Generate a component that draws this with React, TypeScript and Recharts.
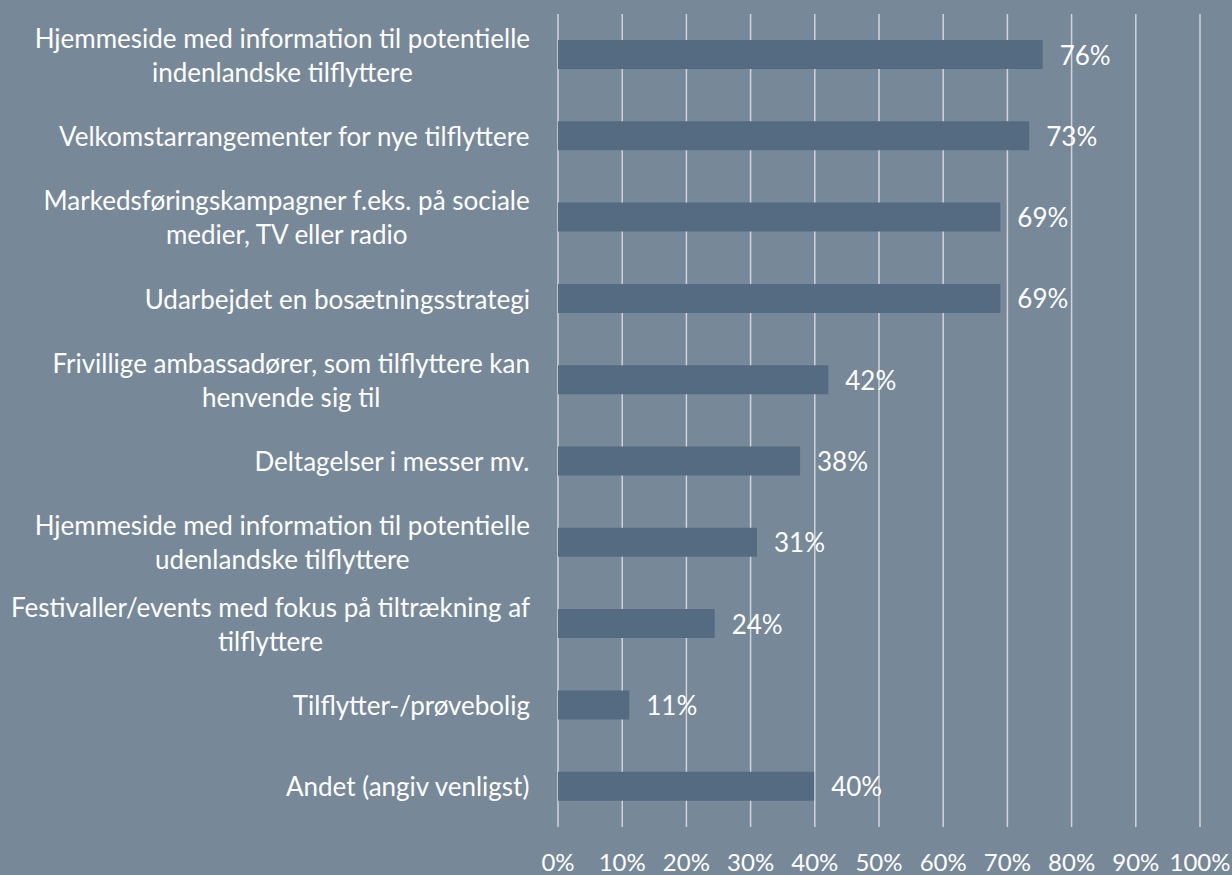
import React from 'react';
import { BarChart, Bar, XAxis, YAxis, CartesianGrid, LabelList } from 'recharts';

const categories: string[] = [
  'Hjemmeside med information til potentielle\nindenlandske tilflyttere',
  'Velkomstarrangementer for nye tilflyttere',
  'Markedsføringskampagner f.eks. på sociale\nmedier, TV eller radio',
  'Udarbejdet en bosætningsstrategi',
  'Frivillige ambassadører, som tilflyttere kan\nhenvende sig til',
  'Deltagelser i messer mv.',
  'Hjemmeside med information til potentielle\nudenlandske tilflyttere',
  'Festivaller/events med fokus på tiltrækning af\ntilflyttere',
  'Tilflytter-/prøvebolig',
  'Andet (angiv venligst)',
];

const values: number[] = [75.5, 73.4, 68.9, 68.9, 42.1, 37.7, 31, 24.4, 11.1, 39.9];

const xTicks: number[] = [0, 10, 20, 30, 40, 50, 60, 70, 80, 90, 100];

const data = categories.map((name, i) => ({ name, value: values[i] }));

const BG = '#778899';
const BAR = '#556b82';
const FONT = 'Lato, "Open Sans", sans-serif';
const FS = 26;
const LABEL_RIGHT = 530;
const LINE_H = 34;

let ctx: CanvasRenderingContext2D | null = null;
function measure(text: string): number {
  if (!ctx) {
    const c = document.createElement('canvas');
    ctx = c.getContext('2d');
  }
  if (!ctx) return text.length * FS * 0.45;
  ctx.font = `${FS}px Lato`;
  return ctx.measureText(text).width;
}

const YTick = (props: any) => {
  const { y, payload } = props;
  const lines: string[] = String(payload.value).split('\n');
  const w = Math.max(...lines.map(measure));
  const cx = LABEL_RIGHT - w / 2;
  const startY = y - ((lines.length - 1) * LINE_H) / 2;
  return (
    <g>
      {lines.map((l, i) => (
        <text
          key={i}
          x={cx}
          y={startY + i * LINE_H}
          textAnchor="middle"
          dominantBaseline="central"
          fill="#ffffff"
          fontFamily={FONT}
          fontSize={FS}
        >
          {l}
        </text>
      ))}
    </g>
  );
};

const XTick = (props: any) => {
  const { x, payload } = props;
  return (
    <text
      x={x}
      y={861}
      textAnchor="middle"
      dominantBaseline="central"
      fill="#ffffff"
      fontFamily={FONT}
      fontSize={24}
    >
      {`${payload.value}%`}
    </text>
  );
};

const ValueLabel = (props: any) => {
  const { x, y, width, height, value } = props;
  return (
    <text
      x={x + width + 17}
      y={y + height / 2}
      textAnchor="start"
      dominantBaseline="central"
      fill="#ffffff"
      fontFamily={FONT}
      fontSize={FS}
    >
      {`${Math.round(Number(value))}%`}
    </text>
  );
};

export default function App() {
  if (typeof document !== 'undefined') {
    document.body.style.margin = '0';
    document.body.style.background = BG;
  }
  return (
    <div style={{ width: 1232, height: 875, background: BG }}>
      <BarChart
        width={1232}
        height={875}
        data={data}
        layout="vertical"
        margin={{ top: 14, right: 32, bottom: 0, left: 0 }}
        barSize={29}
      >
        <CartesianGrid
          horizontal={false}
          vertical={true}
          stroke="#d9dde1"
          strokeWidth={1.5}
          strokeOpacity={0.9}
        />
        <XAxis
          type="number"
          domain={[0, 100]}
          ticks={xTicks}
          axisLine={false}
          tickLine={false}
          height={48}
          tick={<XTick />}
          interval={0}
        />
        <YAxis
          type="category"
          dataKey="name"
          width={558}
          axisLine={false}
          tickLine={false}
          tick={<YTick />}
          interval={0}
        />
        <Bar dataKey="value" fill={BAR} isAnimationActive={false}>
          <LabelList dataKey="value" content={<ValueLabel />} />
        </Bar>
      </BarChart>
    </div>
  );
}
